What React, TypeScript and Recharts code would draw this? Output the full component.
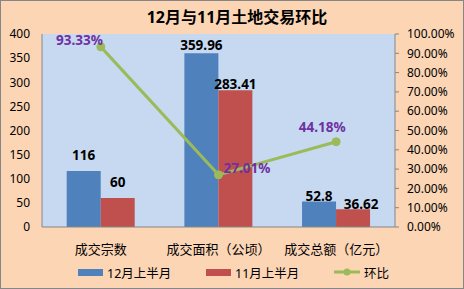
import React from "react";
import {
  ComposedChart,
  Bar,
  Line,
  XAxis,
  YAxis,
  CartesianGrid,
  Legend,
  LabelList,
} from "recharts";

const categories = ["成交宗数", "成交面积（公顷）", "成交总额（亿元）"];
const decFirstHalf = [116, 359.96, 52.8];
const novFirstHalf = [60, 283.41, 36.62];
const monthRatio = [0.9333, 0.2701, 0.4418];

const leftTicks = [0, 50, 100, 150, 200, 250, 300, 350, 400];
const rightTicks = [0, 0.1, 0.2, 0.3, 0.4, 0.5, 0.6, 0.7, 0.8, 0.9, 1];

const seriesNames = ["12月上半月", "11月上半月", "环比"];

const data = categories.map((name, i) => ({
  name,
  dec: decFirstHalf[i],
  nov: novFirstHalf[i],
  ratio: monthRatio[i],
}));

const FONT = '"Noto Sans", "Noto Sans CJK SC", sans-serif';
const BLUE = "#4F81BD";
const RED = "#C0504D";
const GREEN = "#9BBB59";
const PURPLE = "#7030A0";
const AXIS = "#868686";

// label nudges: excel had a few of them dragged by hand
const decLift = [16, 8, 5.5];
const novLift = [16, 6, 5];
const decShift = [0, 0, 0];
const novShift = [0, 0, 8];

const barLabel = (lift: number[], shift: number[]) => (props: any) => {
  const { x, y, width, value, index } = props;
  return (
    <text
      x={Number(x) + Number(width) / 2 + shift[index]}
      y={Number(y) - lift[index]}
      textAnchor="middle"
      dominantBaseline="central"
      fontFamily={FONT}
      fontSize={13.5}
      fontWeight="bold"
      fill="#000"
    >
      {value}
    </text>
  );
};

const ratioLabel = (props: any) => {
  const { x, y, value, index } = props;
  const px = Number(x);
  const py = Number(y);
  let tx = px + 2;
  let ty = py - 7;
  let anchor: "start" | "middle" | "end" = "end";
  if (index === 1) {
    tx = px + 5;
    anchor = "start";
  } else if (index === 2) {
    tx = px - 14;
    ty = py - 15;
    anchor = "middle";
  }
  return (
    <text
      x={tx}
      y={ty}
      textAnchor={anchor}
      dominantBaseline="central"
      fontFamily={FONT}
      fontSize={13.5}
      fontWeight="bold"
      fill={PURPLE}
    >
      {(Number(value) * 100).toFixed(2) + "%"}
    </text>
  );
};

function LegendContent() {
  const items = [
    { name: seriesNames[0], color: BLUE, kind: "rect" },
    { name: seriesNames[1], color: RED, kind: "rect" },
    { name: seriesNames[2], color: GREEN, kind: "line" },
  ];
  return (
    <div style={{ position: "relative", height: 18, fontFamily: FONT, fontSize: 12.5, color: "#000" }}>
      {items.map((it, i) => (
        <div
          key={it.name}
          style={{ position: "absolute", left: 78 + i * 128, top: 0, height: 18, display: "flex", alignItems: "center" }}
        >
          {it.kind === "rect" ? (
            <div style={{ width: 25, height: 7, background: it.color }} />
          ) : (
            <svg width={26} height={10}>
              <line x1={0} y1={5} x2={26} y2={5} stroke={it.color} strokeWidth={3} />
              <circle cx={13} cy={5} r={3.5} fill={it.color} />
            </svg>
          )}
          <span style={{ marginLeft: 4, whiteSpace: "nowrap" }}>{it.name}</span>
        </div>
      ))}
    </div>
  );
}

export default function App() {
  return (
    <div
      style={{
        position: "absolute",
        left: 0,
        top: 0,
        width: 464,
        height: 289,
        boxSizing: "border-box",
        border: `1px solid ${AXIS}`,
        background: "#FCD5B5",
        fontFamily: FONT,
      }}
    >
      <div
        style={{
          position: "absolute",
          left: 4,
          top: 5,
          width: 464,
          textAlign: "center",
          fontSize: 16,
          fontWeight: "bold",
          color: "#000",
          fontFamily: FONT,
          lineHeight: "22px",
        }}
      >
        12月与11月土地交易环比
      </div>
      <div style={{ position: "absolute", left: -1, top: -1 }}>
        <ComposedChart
          width={464}
          height={289}
          data={data}
          margin={{ top: 34, right: 0, bottom: 0, left: 0 }}
          barCategoryGap="21%"
          barGap={0}
        >
          <CartesianGrid horizontal={false} vertical={false} fill="#C6D9F1" />
          <XAxis
            dataKey="name"
            height={62}
            axisLine={{ stroke: AXIS }}
            tickLine={false}
            tickSize={0}
            tickMargin={18}
            tick={{ fontSize: 13, fill: "#000", fontFamily: FONT }}
          />
          <YAxis
            yAxisId="left"
            width={42}
            domain={[0, 400]}
            ticks={leftTicks}
            interval={0}
            axisLine={{ stroke: AXIS }}
            tickLine={false}
            tickSize={0}
            tickMargin={12}
            tick={{ fontSize: 12, fill: "#000", fontFamily: FONT }}
          />
          <YAxis
            yAxisId="right"
            orientation="right"
            width={69}
            domain={[0, 1]}
            ticks={rightTicks}
            interval={0}
            tickFormatter={(v: number) => (v * 100).toFixed(2) + "%"}
            axisLine={{ stroke: AXIS }}
            tickLine={{ stroke: AXIS }}
            tickSize={4}
            tickMargin={8}
            tick={{ fontSize: 12, fill: "#000", fontFamily: FONT }}
          />
          <Legend
            verticalAlign="middle"
            align="center"
            layout="horizontal"
            wrapperStyle={{ top: 263, left: 0, width: 464 }}
            content={() => <LegendContent />}
          />
          <Bar yAxisId="left" dataKey="dec" name={seriesNames[0]} fill={BLUE} isAnimationActive={false}>
            <LabelList dataKey="dec" content={barLabel(decLift, decShift)} />
          </Bar>
          <Bar yAxisId="left" dataKey="nov" name={seriesNames[1]} fill={RED} isAnimationActive={false}>
            <LabelList dataKey="nov" content={barLabel(novLift, novShift)} />
          </Bar>
          <Line
            yAxisId="right"
            dataKey="ratio"
            name={seriesNames[2]}
            stroke={GREEN}
            strokeWidth={3}
            dot={{ r: 4, fill: GREEN, stroke: GREEN, strokeWidth: 1 }}
            activeDot={false}
            isAnimationActive={false}
          >
            <LabelList dataKey="ratio" content={ratioLabel} />
          </Line>
        </ComposedChart>
      </div>
    </div>
  );
}
